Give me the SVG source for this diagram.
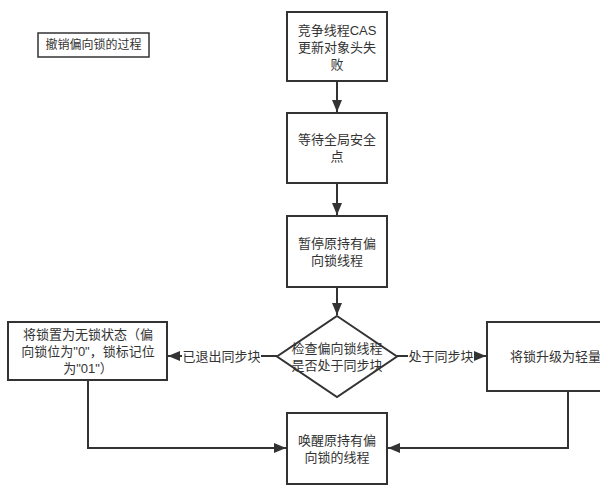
<svg xmlns="http://www.w3.org/2000/svg" width="615" height="492" viewBox="0 0 615 492">
  <defs>
    <style>
      .box { fill: #ffffff; stroke: #333333; stroke-width: 2; }
      .title { fill: #ffffff; stroke: #333333; stroke-width: 1.5; }
      .t { font-family: "Liberation Sans", "Noto Sans CJK SC", sans-serif; font-size: 13px; fill: #333333; text-anchor: middle; dominant-baseline: central; }
      .ts { font-size: 12px; }
      .edge { fill: none; stroke: #333333; stroke-width: 2; }
      .lblbg { fill: #ffffff; stroke: none; }
    </style>
    <marker id="arr" markerUnits="userSpaceOnUse" markerWidth="14" markerHeight="12" refX="12" refY="5" orient="auto">
      <path d="M0,0 L12,5 L0,10 Z" fill="#333333"/>
    </marker>
    <clipPath id="clipR">
      <rect x="0" y="0" width="600" height="492"/>
    </clipPath>
  </defs>

  <g id="title">
    <rect class="title" x="38" y="33" width="111" height="24"/>
    <text class="t ts" x="93.5" y="45">撤销偏向锁的过程</text>
  </g>

  <g id="connectors">
    <path class="edge" d="M337,81 L337,112" marker-end="url(#arr)"/>
    <path class="edge" d="M337,183 L337,215" marker-end="url(#arr)"/>
    <path class="edge" d="M337,287 L337,315" marker-end="url(#arr)"/>
    <path class="edge" d="M277,356 L168,356" marker-end="url(#arr)"/>
    <path class="edge" d="M397,356 L486,356" marker-end="url(#arr)"/>
    <path class="edge" d="M88,380 L88,448 L286,448" marker-end="url(#arr)"/>
    <path class="edge" d="M568,391 L568,448 L388,448" marker-end="url(#arr)"/>
    <rect class="lblbg" x="182" y="347" width="79" height="18"/>
    <text class="t" x="221.5" y="356">已退出同步块</text>
    <rect class="lblbg" x="408" y="347" width="66" height="18"/>
    <text class="t" x="441" y="356">处于同步块</text>
  </g>

  <g id="n1">
    <rect class="box" x="287" y="12" width="100" height="69"/>
    <text class="t" x="337" y="30">竞争线程CAS</text>
    <text class="t" x="337" y="47">更新对象头失</text>
    <text class="t" x="337" y="64">败</text>
  </g>

  <g id="n2">
    <rect class="box" x="287" y="113" width="100" height="70"/>
    <text class="t" x="337" y="139.5">等待全局安全</text>
    <text class="t" x="337" y="156.5">点</text>
  </g>

  <g id="n3">
    <rect class="box" x="287" y="216" width="100" height="71"/>
    <text class="t" x="337" y="243">暂停原持有偏</text>
    <text class="t" x="337" y="260">向锁线程</text>
  </g>

  <g id="n4">
    <polygon class="box" points="337,316 397,356.5 337,397 277,356.5"/>
    <text class="t" x="337" y="348">检查偏向锁线程</text>
    <text class="t" x="337" y="365">是否处于同步块</text>
  </g>

  <g id="n5">
    <rect class="box" x="8" y="322" width="159" height="58"/>
    <text class="t" x="88" y="334.5">将锁置为无锁状态（偏</text>
    <text class="t" x="88" y="351.5">向锁位为"0"，锁标记位</text>
    <text class="t" x="88" y="368">为"01"）</text>
  </g>

  <g id="n6" clip-path="url(#clipR)">
    <rect class="box" x="487" y="322" width="160" height="69"/>
    <text class="t" x="510" y="356" style="text-anchor:start">将锁升级为轻量</text>
  </g>

  <g id="n7">
    <rect class="box" x="287" y="413" width="100" height="71"/>
    <text class="t" x="337" y="440">唤醒原持有偏</text>
    <text class="t" x="337" y="457">向锁的线程</text>
  </g>
</svg>
